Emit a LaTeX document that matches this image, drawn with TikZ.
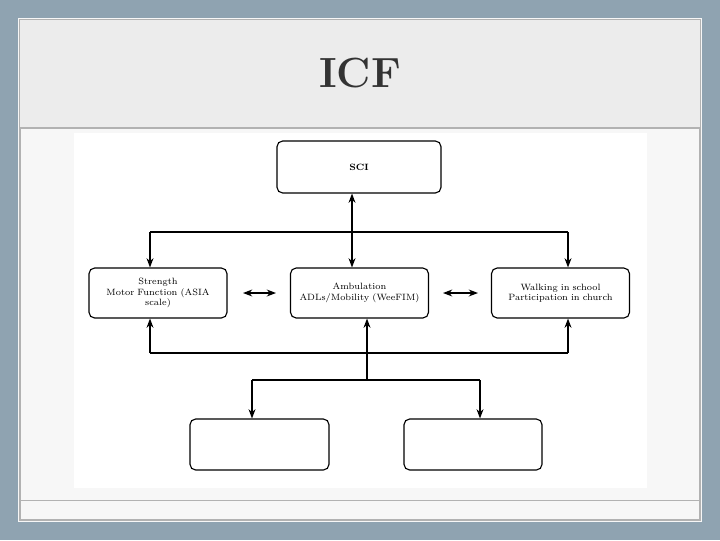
\documentclass[tikz,border=0pt]{standalone}
\usetikzlibrary{arrows.meta}
\definecolor{slate}{HTML}{8FA3B1}
\begin{document}
\begin{tikzpicture}[x=0.025cm,y=-0.025cm,
	box/.style={draw, rounded corners=4pt, line width=0.8pt, align=center, font=\fontsize{6.5}{7.5}\selectfont, inner sep=1pt},
	link/.style={line width=0.8pt, -Stealth}]
	% slide frame
	\fill[slate] (0,0) rectangle (720,540);
	\fill[white!94!gray] (18,18) rectangle (702,522);
	\draw[gray!60, line width=1pt] (20,20) rectangle (700,520);
	\fill[gray!15] (20,20) rectangle (700,128);
	\draw[gray!60, line width=1pt] (20,128) -- (700,128);
	\draw[gray!60] (20,500) -- (700,500);
	\node[text=black!80] (title) at (360,73) {\fontsize{30}{34}\selectfont\bfseries ICF};
	\fill[white] (74,133) rectangle (647,488);
	% boxes
	\node[box, minimum width=164*0.025cm, minimum height=52*0.025cm] (sci) at (359,167) {\textbf{SCI}};
	\foreach \name/\cx/\txt in {body/158/{Strength\\Motor Function (ASIA\\scale)},
		act/359.5/{Ambulation\\ADLs/Mobility (WeeFIM)},
		part/560.5/{Walking in school\\Participation in church}}
	{
		\node[box, minimum width=138*0.025cm, minimum height=50*0.025cm, text width=125*0.025cm] (\name) at (\cx,293) {\txt};
	}
	\node[box, minimum width=139*0.025cm, minimum height=51*0.025cm] (envf) at (259.5,444.5) {};
	\node[box, minimum width=138*0.025cm, minimum height=51*0.025cm] (persf) at (473,444.5) {};
	% upper branch
	\coordinate (top) at (352,232);
	\draw[link, Stealth-Stealth] (sci.south -| top) -- (act.north -| top);
	\draw[line width=0.8pt] (150,232) -- (568,232);
	\draw[link] (150,232) -- (body.north -| 150,0);
	\draw[link] (568,232) -- (part.north -| 568,0);
	\draw[link, Stealth-Stealth] (243,293) -- (276,293);
	\draw[link, Stealth-Stealth] (443,293) -- (478,293);
	% lower branch
	\draw[line width=0.8pt] (150,353) -- (568,353);
	\draw[link] (150,353) -- (body.south -| 150,0);
	\draw[link] (568,353) -- (part.south -| 568,0);
	\draw[link] (367,380) -- (act.south -| 367,0);
	\draw[line width=0.8pt] (252,380) -- (480,380);
	\draw[link] (252,380) -- (envf.north -| 252,0);
	\draw[link] (480,380) -- (persf.north -| 480,0);
\end{tikzpicture}
\end{document}
